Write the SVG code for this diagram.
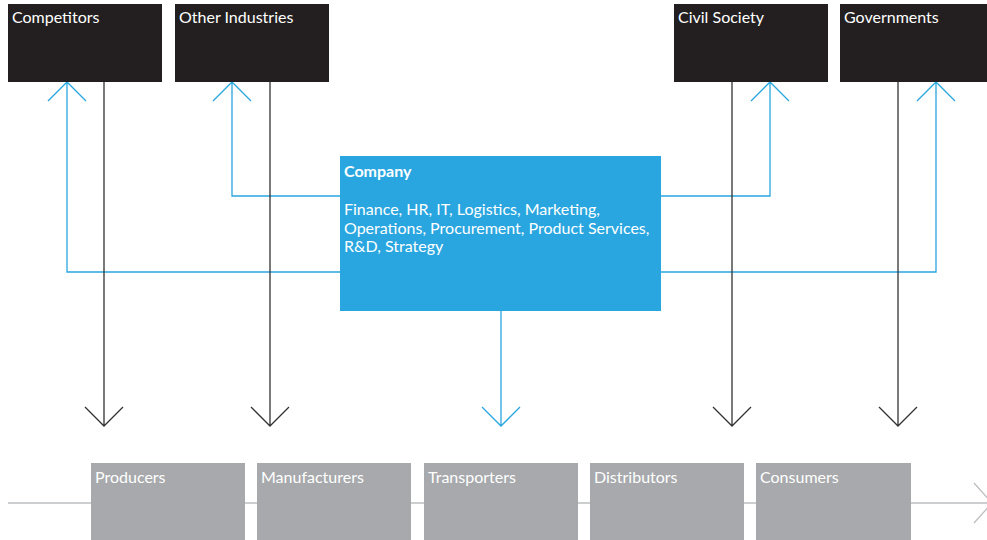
<svg xmlns="http://www.w3.org/2000/svg" width="987" height="540" viewBox="0 0 987 540">
<style>
.dark{fill:#231f20}
.blue{fill:#29a6df}
.grey{fill:#a7a9ac}
text{font-family:Lato,"Open Sans","Liberation Sans",sans-serif;font-size:16px;fill:#fff}
.b{font-weight:bold}
.lk{stroke:#333;stroke-width:1.3;fill:none}
.lb{stroke:#29a6df;stroke-width:1.3;fill:none}
.lg{stroke:#bcbec0;stroke-width:1.3;fill:none}
</style>
<rect width="987" height="540" fill="#fff"/>
<g id="connectors">
<polyline class="lg" points="8,503 987,503"/>
<polyline class="lg" points="974,483 992,503 974,523"/>
<path class="lb" d="M340,196 H232 V82 M213,101 L232,82 L251,101"/>
<path class="lb" d="M661,196 H770 V82 M751,101 L770,82 L789,101"/>
<path class="lb" d="M340,272 H67 V82 M48,101 L67,82 L86,101"/>
<path class="lb" d="M661,272 H936 V82 M917,101 L936,82 L955,101"/>
<path class="lb" d="M501,311 V426 M482,407 L501,426 L520,407"/>
<path class="lk" d="M104,82 V426 M85,407 L104,426 L123,407"/>
<path class="lk" d="M270,82 V426 M251,407 L270,426 L289,407"/>
<path class="lk" d="M732,82 V426 M713,407 L732,426 L751,407"/>
<path class="lk" d="M898,82 V426 M879,407 L898,426 L917,407"/>
</g>
<g id="competitors"><rect class="dark" x="8" y="4" width="154" height="78"/><text x="12" y="23">Competitors</text></g>
<g id="other-industries"><rect class="dark" x="175" y="4" width="154" height="78"/><text x="179" y="23">Other Industries</text></g>
<g id="civil-society"><rect class="dark" x="674" y="4" width="154" height="78"/><text x="678" y="23">Civil Society</text></g>
<g id="governments"><rect class="dark" x="840" y="4" width="154" height="78"/><text x="844" y="23">Governments</text></g>
<g id="company"><rect class="blue" x="340" y="156" width="321" height="155"/>
<text class="b" x="344" y="177">Company</text>
<text x="344" y="215">Finance, HR, IT, Logistics, Marketing,</text>
<text x="344" y="233.5">Operations, Procurement, Product Services,</text>
<text x="344" y="252">R&amp;D, Strategy</text></g>
<g id="producers"><rect class="grey" x="91" y="463" width="154" height="80"/><text x="95" y="483">Producers</text></g>
<g id="manufacturers"><rect class="grey" x="257" y="463" width="154" height="80"/><text x="261" y="483">Manufacturers</text></g>
<g id="transporters"><rect class="grey" x="424" y="463" width="154" height="80"/><text x="428" y="483">Transporters</text></g>
<g id="distributors"><rect class="grey" x="590" y="463" width="154" height="80"/><text x="594" y="483">Distributors</text></g>
<g id="consumers"><rect class="grey" x="756" y="463" width="155" height="80"/><text x="760" y="483">Consumers</text></g>
</svg>
